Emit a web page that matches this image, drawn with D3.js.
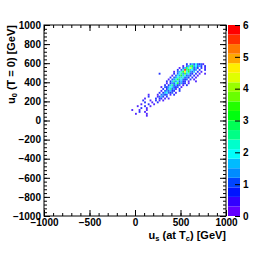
<!DOCTYPE html>
<html>
<head>
<meta charset="utf-8">
<script src="https://cdn.jsdelivr.net/npm/d3@7"></script>
<style>
body { margin: 0; background: #fff; }
text { font-family: "Liberation Sans", Arial, sans-serif; font-weight: bold; }
</style>
</head>
<body>
<svg id="chart" width="270" height="259"></svg>
<script>
// 2D histogram, 20 GeV bins: each row is one y bin (lower edge) with [x lower edge, content]
var binWidth = 20;
var rowY = [580, 560, 540, 520, 500, 480, 460, 440, 420, 400, 380, 360, 340, 320, 300, 280, 260, 240, 220, 200, 180, 160, 140, 120, 100, 80, 60, 40];
var rowCells = [
    [[560,0.8],[600,1],[620,1.5],[640,1],[660,2],[680,1],[700,0.6],[720,1],[740,0.5]],
    [[520,0.5],[560,1],[580,1.5],[600,2.5],[620,3],[640,1.2],[660,2],[680,1],[700,1.5],[720,0.7],[760,0.6]],
    [[480,0.5],[520,1],[540,1.5],[560,3.5],[580,2],[600,4.2],[620,2.5],[640,1],[660,1.5],[680,0.6],[720,0.8],[760,0.5]],
    [[460,0.6],[500,1],[520,2],[540,5.7],[560,2.5],[580,3.2],[600,1.5],[620,2],[640,1],[660,1.2],[700,0.7],[760,0.6]],
    [[420,0.5],[460,1],[480,1.5],[500,2.2],[520,3],[540,4.5],[560,2],[580,3],[600,1.2],[620,1],[640,1.5],[680,0.6],[720,0.5]],
    [[260,0.8],[420,0.6],[460,1],[480,1.8],[500,2.5],[520,1.2],[540,3.5],[560,1.5],[580,2],[600,1],[620,0.7],[660,0.8],[700,0.5],[760,0.5]],
    [[400,0.5],[440,1],[460,2],[480,1.2],[500,3],[520,1.5],[540,2],[560,1],[580,1.3],[600,0.8],[640,0.6],[680,0.5]],
    [[380,0.6],[420,1],[440,1.2],[460,1.8],[480,2.5],[500,1.5],[520,2.2],[540,1],[560,1.4],[580,0.7],[620,0.8],[660,0.5]],
    [[360,0.5],[400,1],[420,1.4],[440,2.2],[460,3],[480,1.2],[500,2],[520,1],[540,0.8],[560,1],[600,0.6],[640,0.5]],
    [[340,0.6],[380,0.8],[400,1.5],[420,2.5],[440,1.2],[460,2],[480,1],[500,1.5],[520,0.6],[540,0.8],[580,0.5],[660,0.5]],
    [[340,0.5],[380,0.7],[400,1.2],[420,1],[440,2],[460,3.2],[480,1],[500,1.3],[520,0.6],[540,0.8],[580,0.5]],
    [[320,0.7],[360,0.6],[380,1.5],[400,2.4],[420,1],[440,1.5],[460,0.8],[480,1],[520,0.5],[560,0.6]],
    [[280,0.5],[320,1],[340,0.8],[360,1.2],[380,2],[400,1.5],[420,1],[440,0.6],[460,0.9],[500,0.5]],
    [[300,0.6],[340,0.8],[360,1.5],[380,2.6],[400,1],[420,1.2],[440,0.5],[480,0.6]],
    [[280,0.5],[320,1],[340,1.3],[360,1],[380,1.5],[400,0.8],[420,0.6],[480,0.8]],
    [[260,0.6],[300,0.8],[320,1.5],[340,2],[360,1],[380,0.7],[400,0.9],[440,0.5]],
    [[140,0.5],[240,0.5],[280,1],[300,1.2],[320,0.8],[340,1],[380,0.5],[420,0.6]],
    [[140,0.6],[240,0.5],[260,1],[280,1.5],[300,0.6],[340,0.6]],
    [[100,0.5],[220,0.8],[260,0.6],[280,0.7],[320,0.5],[360,0.4]],
    [[80,0.6],[160,0.5],[220,0.7],[260,0.5],[300,0.5]],
    [[100,0.7],[180,0.5],[240,0.6]],
    [[60,0.5],[140,0.6],[200,0.5]],
    [[20,0.5],[100,0.7],[160,0.4]],
    [[60,0.6],[120,0.5]],
    [[-40,0.5],[40,0.5],[120,0.4]],
    [[40,0.6],[100,0.5]],
    [[0,0.5],[120,0.5]],
    [[120,0.5]]
];

var xTicks = [-1000, -500, 0, 500, 1000];
var yTicks = [-1000, -800, -600, -400, -200, 0, 200, 400, 600, 800, 1000];
var zTicks = [0, 1, 2, 3, 4, 5, 6];

//-----------------------------------------------------------------------------
var svg = d3.select('#chart');
var frame = {left: 44, right: 226, top: 25, bottom: 216};

var x = d3.scaleLinear().domain([-1000, 1000]).range([frame.left, frame.right]);
var y = d3.scaleLinear().domain([-1000, 1000]).range([frame.bottom, frame.top]);
var z = d3.scaleLinear().domain([0, 6]).range([frame.bottom, frame.top]);

// ROOT "pretty" palette, 20 contour levels picked out of 50 colours
var nLevels = 20;
var levelColors = d3.range(nLevels).map(function(i) {
    var j = Math.floor((i + 0.99) * 50 / nLevels);
    var hue = j < 49 ? 280 - (j + 1) * 5.6 : 0;
    return d3.hsl(hue, 1, 0.5).formatHex();
});
var color = d3.scaleQuantize().domain([0, 6]).range(levelColors);

var cells = [];
rowY.forEach(function(yy, i) {
    rowCells[i].forEach(function(c) {
        cells.push({x: c[0], y: yy, v: c[1]});
    });
});

//-----------------------------------------------------------------------------
svg.append('g').selectAll('rect')
    .data(cells)
    .enter().append('rect')
    .attr('x', function(d) { return x(d.x); })
    .attr('y', function(d) { return y(d.y + binWidth); })
    .attr('width', function(d) { return x(d.x + binWidth) - x(d.x); })
    .attr('height', function(d) { return y(d.y) - y(d.y + binWidth); })
    .style('fill', function(d) { return color(d.v); })
    .style('fill-opacity', 0.85);

//-----------------------------------------------------------------------------
// axes, ticks pointing inward on all four sides
function minorTicks(step) {
    return d3.range(-1000, 1000 + step / 2, step);
}

function drawAxis(axisFn, scale, major, step, transform, labels) {
    var gMin = svg.append('g').attr('transform', transform)
        .call(axisFn(scale).tickValues(minorTicks(step)).tickFormat('').tickSize(-3));
    gMin.select('.domain').remove();
    var g = svg.append('g').attr('transform', transform)
        .call(axisFn(scale).tickValues(major).tickSize(-6).tickPadding(3)
            .tickFormat(labels ? d3.format('d') : ''));
    g.select('.domain').remove();
    g.selectAll('text').style('font-size', '10px').attr('fill', '#000')
        .style('font-family', '"Liberation Sans", Arial, sans-serif').style('font-weight', 'bold');
    return g;
}

drawAxis(d3.axisBottom, x, xTicks, 100, 'translate(0,' + frame.bottom + ')', true);
drawAxis(d3.axisTop, x, xTicks, 100, 'translate(0,' + frame.top + ')', false);
drawAxis(d3.axisLeft, y, yTicks, 40, 'translate(' + frame.left + ',0)', true);
drawAxis(d3.axisRight, y, yTicks, 40, 'translate(' + frame.right + ',0)', false);

svg.append('rect')
    .attr('x', frame.left).attr('y', frame.top)
    .attr('width', frame.right - frame.left).attr('height', frame.bottom - frame.top)
    .style('fill', 'none').style('stroke', '#000').style('stroke-width', 1);

//-----------------------------------------------------------------------------
// palette
var pal = {left: 228, right: 240};
var levelStep = 6 / nLevels;
svg.append('g').selectAll('rect')
    .data(levelColors)
    .enter().append('rect')
    .attr('x', pal.left)
    .attr('width', pal.right - pal.left)
    .attr('y', function(d, i) { return z((i + 1) * levelStep); })
    .attr('height', function(d, i) { return z(i * levelStep) - z((i + 1) * levelStep); })
    .style('fill', function(d) { return d; });

var zAxis = svg.append('g').attr('transform', 'translate(' + pal.right + ',0)')
    .call(d3.axisRight(z).tickValues(zTicks).tickSize(-5).tickPadding(3).tickFormat(d3.format('d')));
zAxis.select('.domain').remove();
zAxis.selectAll('text').style('font-size', '10px').attr('fill', '#000');

//-----------------------------------------------------------------------------
// titles
var xTitle = svg.append('text')
    .attr('x', frame.right).attr('y', 239)
    .attr('text-anchor', 'end')
    .style('font-size', '11px');
xTitle.append('tspan').text('u');
xTitle.append('tspan').attr('dy', 2).style('font-size', '7.5px').text('s');
xTitle.append('tspan').attr('dy', -2).text(' (at T');
xTitle.append('tspan').attr('dy', 2).style('font-size', '7.5px').text('c');
xTitle.append('tspan').attr('dy', -2).text(') [GeV]');

var yTitle = svg.append('text')
    .attr('transform', 'translate(15,' + frame.top + ') rotate(-90)')
    .attr('text-anchor', 'end')
    .style('font-size', '11px');
yTitle.append('tspan').text('u');
yTitle.append('tspan').attr('dy', 2).style('font-size', '7.5px').text('0');
yTitle.append('tspan').attr('dy', -2).text(' (T = 0) [GeV]');
</script>
</body>
</html>
